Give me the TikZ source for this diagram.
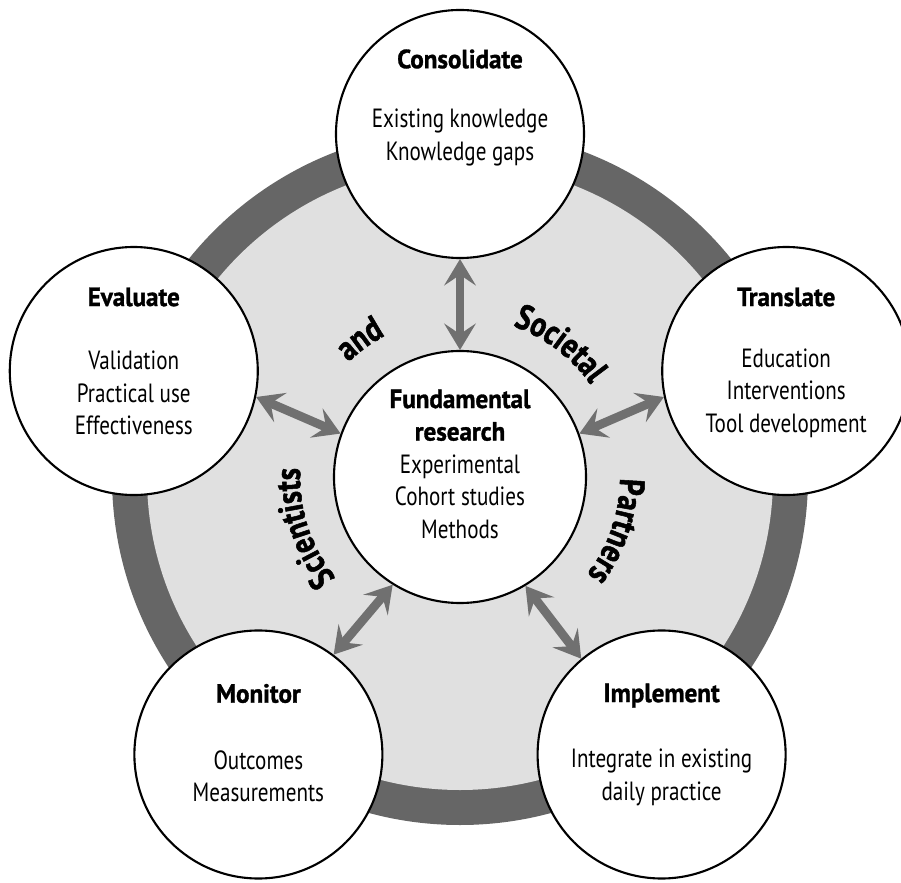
\documentclass[tikz,border=0pt]{standalone}
\usepackage{fontspec}
\setmainfont{PT Sans}[FakeStretch=0.8]
\newfontfamily\headfont{PT Sans}[FakeStretch=0.95, FakeBold=1.2]
\newfontfamily\wordfont{PT Sans}[FakeStretch=0.82, FakeBold=1.5]
\usepackage{xcolor}
\usetikzlibrary{arrows.meta}
\usetikzlibrary{decorations.text}

\definecolor{ringgray}{RGB}{102,102,102}
\definecolor{fillgray}{RGB}{224,224,224}
\definecolor{linkgray}{RGB}{112,112,112}
\newcommand{\arcfont}{\wordfont\bfseries\fontsize{20}{23}\selectfont}

\tikzset{
  stage/.style={circle, draw, fill=white, line width=1.2pt, minimum size=4.96cm, inner sep=0pt},
  head/.style={font=\headfont\bfseries\fontsize{15}{18.5}\selectfont},
  body/.style={align=center, font=\fontsize{15}{18.5}\selectfont},
  link/.style={line width=5pt, linkgray,
    {Stealth[length=15pt,width=18pt,inset=6pt]}-{Stealth[length=15pt,width=18pt,inset=6pt]}},
  arcword/.style={decorate, decoration={text along path, text align=center, text={|\arcfont|#1}}}
}

\begin{document}
\begin{tikzpicture}
  \useasboundingbox (-9.2,-8.1) rectangle (8.82,9.54);
  \fill[ringgray] (0,0) circle (6.96);
  \fill[fillgray] (0,0) circle (6.26);

  \node (cen) [stage, minimum size=5.04cm] at (0,0) {};
  \node (con) [stage] at (90:6.86) {};
  \node (tra) [stage] at (18:6.86) {};
  \node (imp) [stage] at (-54:6.86) {};
  \node (mon) [stage] at (234:6.86) {};
  \node (eva) [stage] at (162:6.86) {};

  \node (centxt) [body, yshift=0.26cm] at (cen)
    {{\headfont\bfseries Fundamental}\\{\headfont\bfseries research}\\Experimental\\Cohort studies\\Methods};
  \node (conhead) [head, yshift=1.5cm] at (con) {Consolidate};
  \node (conbody) [body, yshift=-0.07cm] at (con) {Existing knowledge\\Knowledge gaps};
  \node (trahead) [head, yshift=1.48cm] at (tra) {Translate};
  \node (trabody) [body, yshift=-0.44cm] at (tra) {Education\\Interventions\\Tool development};
  \node (imphead) [head, yshift=1.18cm] at (imp) {Implement};
  \node (impbody) [body, yshift=-0.46cm] at (imp) {Integrate in existing\\daily practice};
  \node (monhead) [head, yshift=1.22cm] at (mon) {Monitor};
  \node (monbody) [body, yshift=-0.44cm] at (mon) {Outcomes\\Measurements};
  \node (evahead) [head, yshift=1.48cm] at (eva) {Evaluate};
  \node (evabody) [body, yshift=-0.44cm] at (eva) {Validation\\Practical use\\Effectiveness};

  \draw[link] (cen.north) -- (con.south);
  \draw[link] (cen.20) -- (tra.192);
  \draw[link] (cen.-59) -- (imp.130);
  \draw[link] (cen.238) -- (mon.53);
  \draw[link] (cen.160) -- (eva.-12);

  \path[arcword=Scientists] (228:3.2) arc (228:168:3.2);
  \path[arcword=and] (150:3.2) arc (150:102:3.2);
  \path[arcword=Societal] (83:3.2) arc (83:23:3.2);
  \path[arcword=Partners] (11:3.2) arc (11:-49:3.2);
\end{tikzpicture}
\end{document}
